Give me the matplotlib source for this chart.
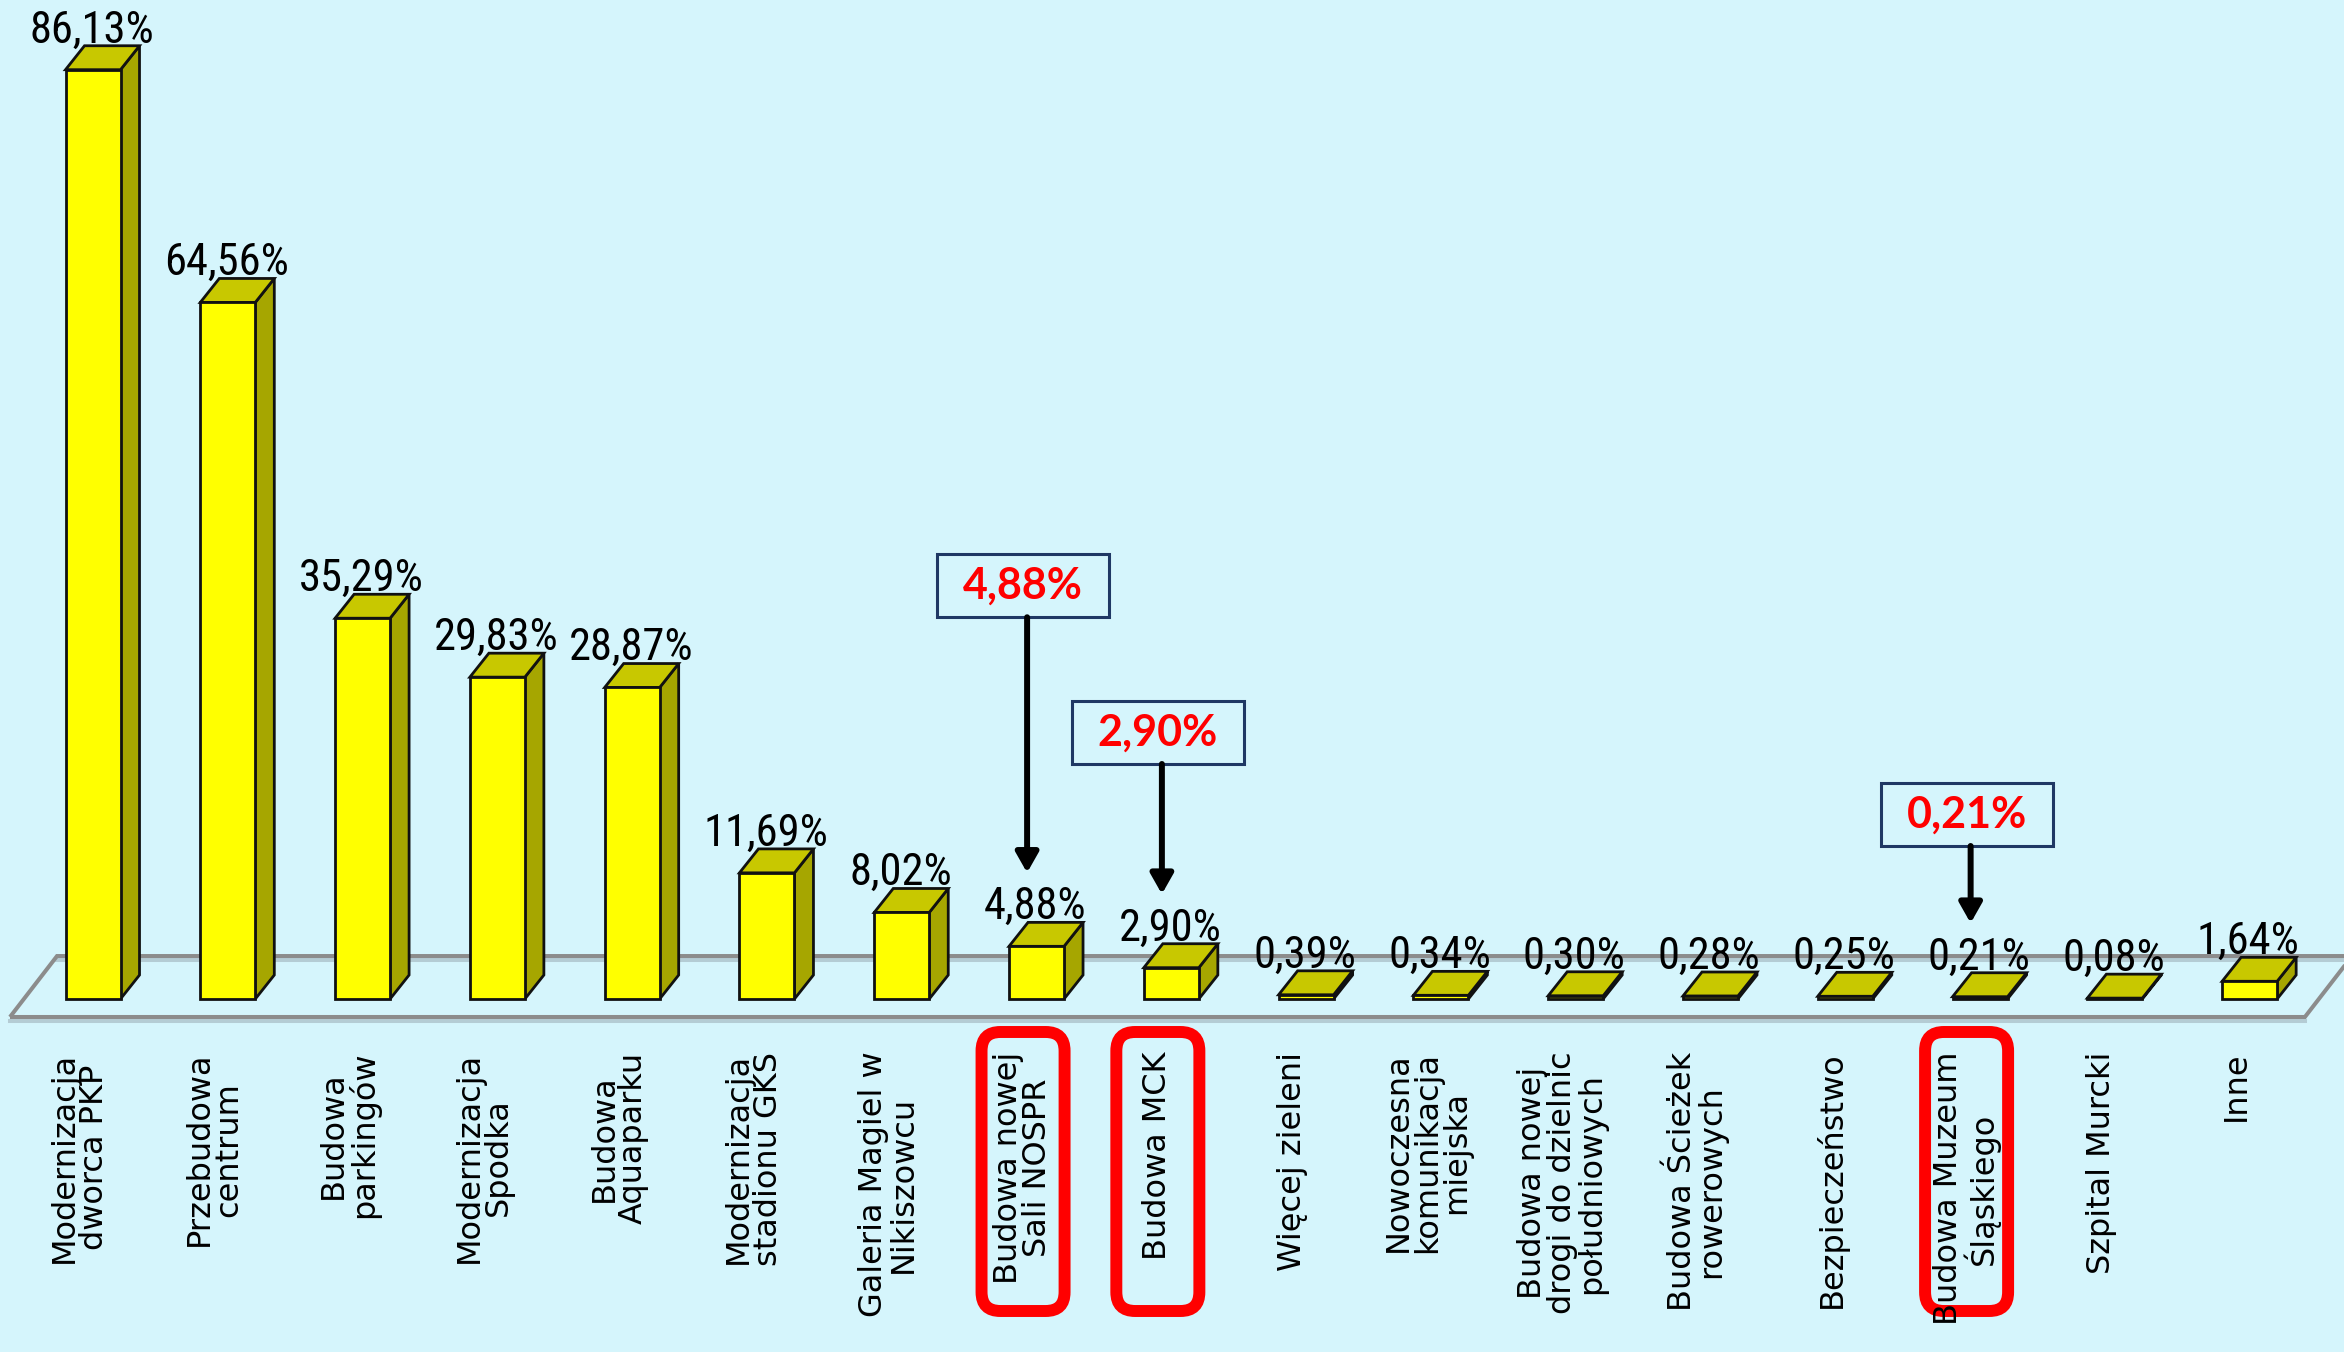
import matplotlib
matplotlib.use("Agg")
import matplotlib.pyplot as plt
from matplotlib import font_manager
from matplotlib.patches import Polygon, Rectangle, FancyBboxPatch

# Data
categories = [
    "Modernizacja\ndworca PKP", "Przebudowa\ncentrum", "Budowa\nparkingów",
    "Modernizacja\nSpodka", "Budowa\nAquaparku", "Modernizacja\nstadionu GKS",
    "Galeria Magiel w\nNikiszowcu", "Budowa nowej\nSali NOSPR", "Budowa MCK",
    "Więcej zieleni", "Nowoczesna\nkomunikacja\nmiejska",
    "Budowa nowej\ndrogi do dzielnic\npołudniowych", "Budowa Ścieżek\nrowerowych",
    "Bezpieczeństwo", "Budowa Muzeum\nŚląskiego", "Szpital Murcki", "Inne",
]
values = [86.13, 64.56, 35.29, 29.83, 28.87, 11.69, 8.02, 4.88, 2.90,
          0.39, 0.34, 0.30, 0.28, 0.25, 0.21, 0.08, 1.64]
highlight = [7, 8, 14]
callout_y = [38.3, 24.7, 17.1]   # box centres


def pct(v):
    return f"{v:.2f}".replace(".", ",") + "%"


# pick a narrow font for the value labels if one is installed
fonts = font_manager.fontManager.ttflist
names = {f.name for f in fonts}
narrow = None
for cand in ["Liberation Sans Narrow", "Arial Narrow", "DejaVu Sans Condensed",
             "Roboto Condensed", "Open Sans Condensed"]:
    if cand in names:
        narrow = dict(family=cand)
        break
if narrow is None:
    cond = [f for f in fonts if f.stretch in ("condensed", "semi-condensed", 300, 400)
            and f.style == "normal" and f.weight in ("normal", 400, "regular")]
    if cond:
        narrow = dict(family=cond[0].name, stretch=cond[0].stretch)
if narrow is None:
    narrow = dict(family="Liberation Sans")
    val_size = 25
else:
    val_size = 32

BG = "#d5f5fc"
FRONT, TOP, SIDE = "#ffff00", "#c8c800", "#a6a600"
W, DX, DZ = 0.408, 0.141, 2.22
SHIFT = -0.1

fig = plt.figure(figsize=(23.44, 13.52), dpi=100, facecolor=BG)
ax = fig.add_axes([0, 0, 1, 1])
ax.set_facecolor(BG)
XLIM, YLIM = (-0.690, 16.70), (-32.72, 92.59)
ax.set_xlim(*XLIM)
ax.set_ylim(*YLIM)
ax.axis("off")
aspect = (2344 / (XLIM[1] - XLIM[0])) / (1352 / (YLIM[1] - YLIM[0]))

# floor
n = len(values)
fl = [(-0.616, -1.67), (-0.267, 3.98), (n - 0.24, 3.98), (n - 0.59, -1.67)]
ax.plot([fl[1][0], fl[2][0]], [3.98 - 0.37] * 2, color="#b4ccd4", lw=2.9, zorder=1)
ax.plot([fl[0][0], fl[3][0]], [-1.67 - 0.37] * 2, color="#b4ccd4", lw=2.9, zorder=1)
ax.add_patch(Polygon(fl, closed=True, fill=False, edgecolor="#8c8c8c", lw=2.9, zorder=2))

# 3d bars
for i, v in enumerate(values):
    x0, x1 = i - W / 2, i + W / 2
    side = [(x1, 0), (x1 + DX, DZ), (x1 + DX, v + DZ), (x1, v)]
    top = [(x0, v), (x1, v), (x1 + DX, v + DZ), (x0 + DX, v + DZ)]
    front = [(x0, 0), (x1, 0), (x1, v), (x0, v)]
    for pts, c in [(side, SIDE), (top, TOP), (front, FRONT)]:
        ax.add_patch(Polygon(pts, closed=True, facecolor=c, edgecolor="#111111",
                             lw=2, joinstyle="miter", zorder=3))
    ax.text(i - 0.01, v + DZ + 0.3, pct(v), ha="center", va="baseline",
            fontsize=val_size, color="black", zorder=6, **narrow)
    ax.text(i + SHIFT, -4.9, categories[i], rotation=90, ha="center", va="top",
            multialignment="center", fontsize=23, family="DejaVu Sans",
            linespacing=0.93, color="black", zorder=6)

# callouts
bw, bh = 1.276, 5.84
for i, yc in zip(highlight, callout_y):
    xc = i + SHIFT
    ax.add_patch(Rectangle((xc - bw / 2, yc - bh / 2), bw, bh, facecolor=BG,
                           edgecolor="#1f3864", lw=2.2, zorder=5))
    ax.text(xc, yc, pct(values[i]), ha="center", va="center", fontsize=31,
            fontweight="bold", family=["Lato", "DejaVu Sans"], color="#ff0000", zorder=6)
    ax.annotate("", xy=(xc + 0.03, values[i] + DZ + 4.6), xytext=(xc + 0.03, yc - bh / 2),
                arrowprops=dict(arrowstyle="-|>,head_length=0.6,head_width=0.34",
                                mutation_scale=20, lw=4.3, color="black",
                                shrinkA=0, shrinkB=0), zorder=5)
    # red frame round the axis label
    ax.add_patch(FancyBboxPatch((xc - 0.308, -28.92), 0.616, 25.86,
                                boxstyle="round,pad=0,rounding_size=0.14",
                                mutation_aspect=aspect, fill=False,
                                edgecolor="#ff0000", lw=8.6, zorder=5))

fig.savefig("out.png", dpi=100, facecolor=BG)
